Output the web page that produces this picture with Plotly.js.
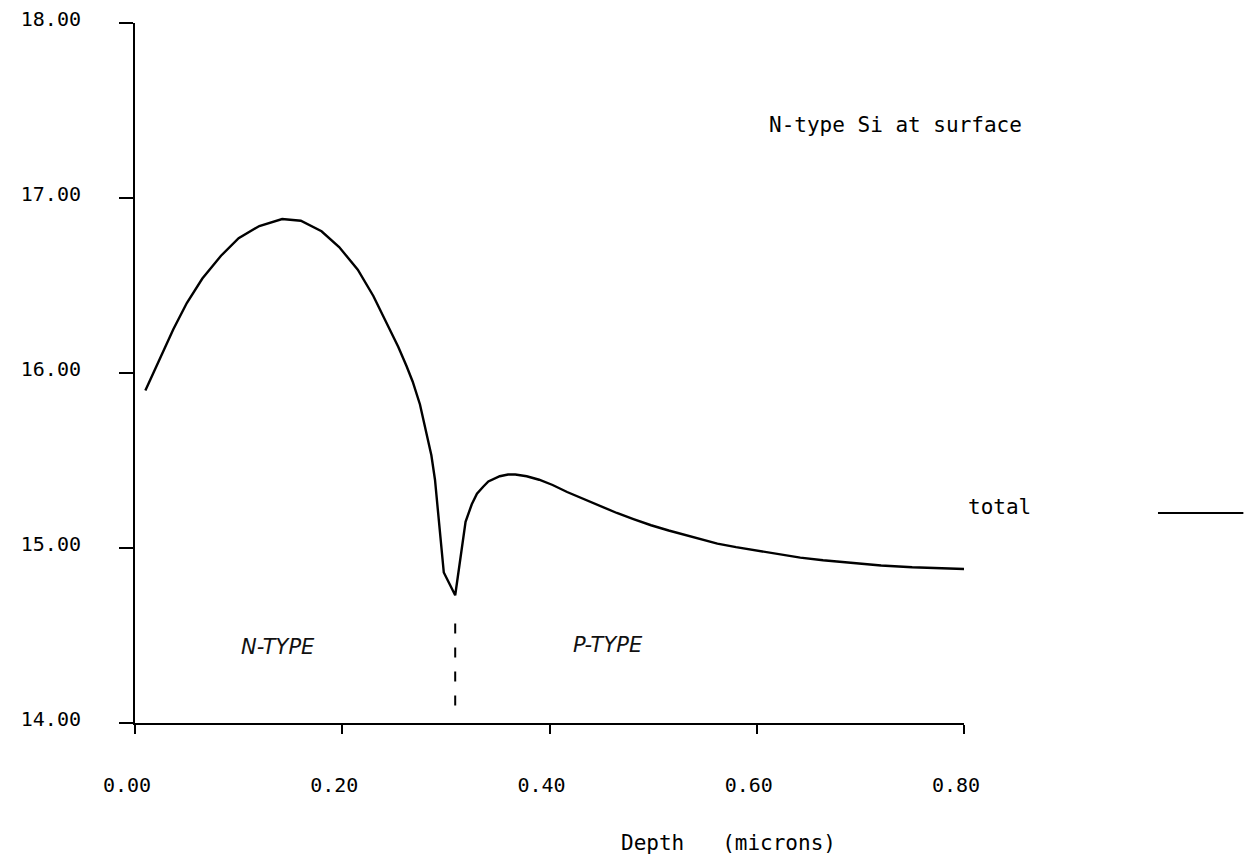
<!DOCTYPE html>
<html>
<head>
<meta charset="utf-8">
<script src="https://cdn.plot.ly/plotly-3.0.1.min.js"></script>
<style>
  html, body { margin: 0; padding: 0; background: #fff; }
  #chart { width: 1259px; height: 860px; }
</style>
</head>
<body>
<div id="chart"></div>
<script>
// Depth in microns
const depth = [0.010, 0.022, 0.037, 0.050, 0.065, 0.083, 0.100, 0.120, 0.142, 0.160,
               0.180, 0.197, 0.215, 0.230, 0.246, 0.254, 0.262, 0.268, 0.275, 0.281,
               0.286, 0.2895, 0.298, 0.309, 0.319, 0.325, 0.330, 0.336, 0.341, 0.352,
               0.360, 0.367, 0.378, 0.390, 0.403, 0.417, 0.433, 0.450, 0.465, 0.481,
               0.498, 0.515, 0.530, 0.545, 0.562, 0.580, 0.600, 0.620, 0.642, 0.664,
               0.690, 0.720, 0.750, 0.785, 0.800];
// log10 concentration, "total"
const total = [15.90, 16.06, 16.25, 16.40, 16.54, 16.67, 16.77, 16.84, 16.88, 16.87,
               16.81, 16.72, 16.59, 16.44, 16.25, 16.15, 16.04, 15.95, 15.82, 15.67,
               15.53, 15.39, 14.86, 14.73, 15.15, 15.25, 15.31, 15.35, 15.38, 15.41,
               15.42, 15.42, 15.41, 15.39, 15.36, 15.32, 15.28, 15.24, 15.20, 15.165,
               15.13, 15.10, 15.075, 15.05, 15.025, 15.005, 14.985, 14.965, 14.945, 14.93,
               14.915, 14.90, 14.89, 14.88, 14.88];

const xTickVals = [0, 0.2, 0.4, 0.6, 0.8];
const xTickText = ["0.00", "0.20", "0.40", "0.60", "0.80"];
const yTickVals = [14, 15, 16, 17, 18];
const yTickText = ["14.00", "15.00", "16.00", "17.00", "18.00"];

const seriesName = "total";
const chartNote = "N-type Si at surface";
const xLabel = "Depth\u00A0\u00A0\u00A0(microns)";
const regionLabels = ["N-TYPE", "P-TYPE"];

// junction = depth of the minimum
let jIdx = 0;
total.forEach((v, i) => { if (v < total[jIdx]) jIdx = i; });
const junction = depth[jIdx];

const mono = "DejaVu Sans Mono, monospace";

const trace = {
  x: depth, y: total, type: "scatter", mode: "lines", name: seriesName,
  line: { color: "#000", width: 2.4, shape: "linear" },
  showlegend: false, hoverinfo: "x+y"
};

const layout = {
  width: 1259, height: 860,
  paper_bgcolor: "#fff", plot_bgcolor: "#fff",
  margin: { l: 135, r: 295, t: 23, b: 137 },
  font: { family: mono, color: "#000", size: 20 },
  xaxis: {
    range: [0, 0.8], showgrid: false, zeroline: false,
    showline: true, linecolor: "#000", linewidth: 2,
    ticks: "outside", ticklen: 9, tickwidth: 2, tickcolor: "#000",
    tickvals: xTickVals, ticktext: xTickText,
    tickfont: { family: mono, size: 20, color: "#000" },
    ticklabelstandoff: 34, ticklabelshift: -8
  },
  yaxis: {
    range: [14, 18], showgrid: false, zeroline: false,
    showline: true, linecolor: "#000", linewidth: 2,
    ticks: "outside", ticklen: 14, tickwidth: 2, tickcolor: "#000",
    tickvals: yTickVals, ticktext: yTickText,
    tickfont: { family: mono, size: 20, color: "#000" },
    ticklabelstandoff: 34, ticklabelshift: -4
  },
  shapes: [
    { type: "line", xref: "x", yref: "y", x0: junction, x1: junction, y0: 14.10, y1: 14.62,
      line: { color: "#000", width: 2, dash: "10px,14px" } },
    { type: "line", xref: "paper", yref: "paper", x0: 1.234, x1: 1.337, y0: 0.30, y1: 0.30,
      line: { color: "#000", width: 2 } }
  ],
  annotations: [
    { text: chartNote, xref: "paper", yref: "paper", x: 0.917, y: 0.854,
      xanchor: "center", yanchor: "middle", showarrow: false,
      font: { family: mono, size: 21, color: "#000" } },
    { text: seriesName, xref: "paper", yref: "paper", x: 1.043, y: 0.309,
      xanchor: "center", yanchor: "middle", showarrow: false,
      font: { family: mono, size: 21, color: "#000" } },
    { text: xLabel, xref: "paper", yref: "paper", x: 0.7165, y: -0.171,
      xanchor: "center", yanchor: "middle", showarrow: false,
      font: { family: mono, size: 21, color: "#000" } },
    { text: regionLabels[0], xref: "x", yref: "y", x: 0.138, y: 14.434,
      xanchor: "center", yanchor: "middle", showarrow: false,
      font: { family: "DejaVu Sans", size: 21, style: "italic", color: "#111" } },
    { text: regionLabels[1], xref: "x", yref: "y", x: 0.456, y: 14.446,
      xanchor: "center", yanchor: "middle", showarrow: false,
      font: { family: "DejaVu Sans", size: 21, style: "italic", color: "#111" } }
  ]
};

Plotly.newPlot("chart", [trace], layout, { staticPlot: true, displayModeBar: false });
</script>
</body>
</html>
